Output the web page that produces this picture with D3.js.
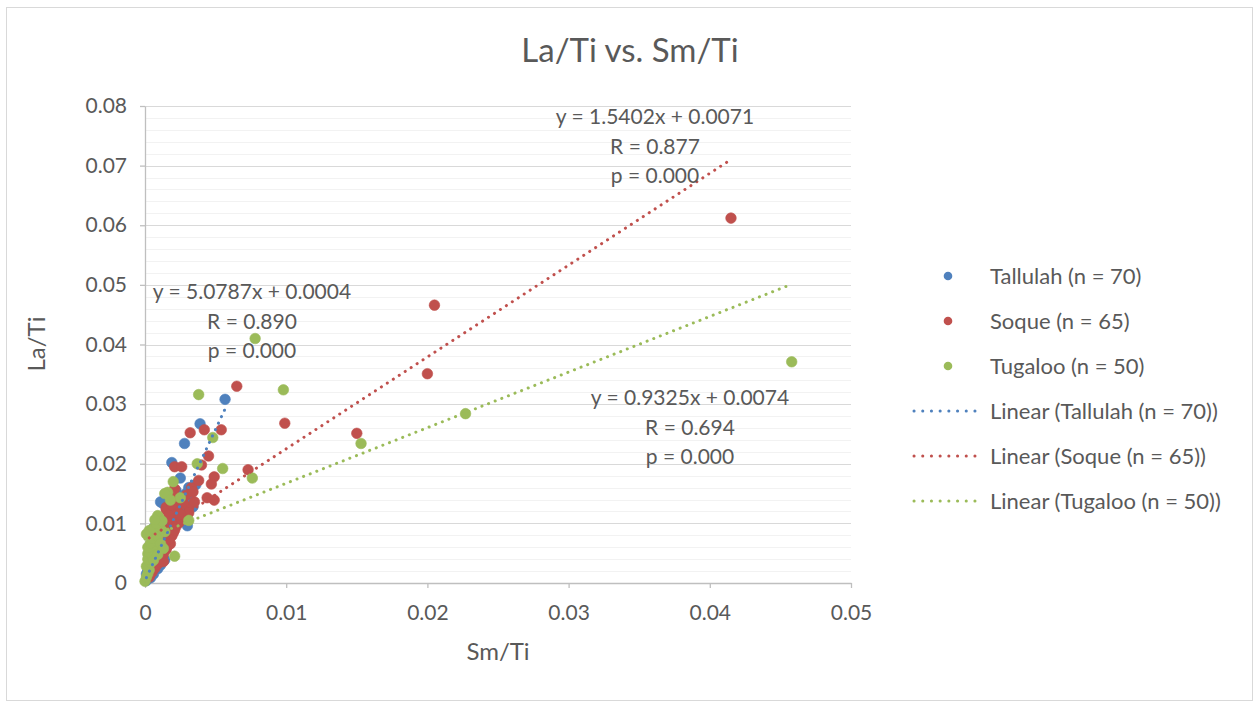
<!DOCTYPE html>
<html>
<head>
<meta charset="utf-8">
<script src="https://cdn.jsdelivr.net/npm/d3@7"></script>
<style>
  html, body { margin: 0; padding: 0; background: #fff; }
  text { font-family: Lato, "Open Sans", sans-serif; fill: #595959; }
</style>
</head>
<body>
<svg id="chart" width="1259" height="703"></svg>
<script>
// ---------- DATA ----------
const seriesNames = ["Tallulah (n = 70)", "Soque (n = 65)", "Tugaloo (n = 50)"];
const seriesColors = ["#4F81BD", "#C0504D", "#9BBB59"];

// Tallulah: [Sm/Ti, La/Ti]
const tallulah = [
  [0.00567,0.0308],[0.0039,0.0267],[0.0028,0.0234],[0.0019,0.0202],[0.0025,0.0176],
  [0.0030,0.0146],[0.0013,0.0133],[0.0034,0.0128],[0.0030,0.0096],[0.0020,0.0118],
  [0.0006,0.0092],[0.0011,0.0062],[0.0009,0.0034],[0.0001,0.0015],
  [0.0002,0.0008],[0.0003,0.0012],[0.0004,0.0018],[0.0005,0.0022],[0.0003,0.0025],
  [0.0006,0.0028],[0.0007,0.0031],[0.0005,0.0036],[0.0008,0.0040],[0.0010,0.0044],
  [0.0007,0.0047],[0.0009,0.0051],[0.0012,0.0055],[0.0011,0.0058],[0.0013,0.0064],
  [0.0008,0.0068],[0.0014,0.0071],[0.0012,0.0075],[0.0016,0.0079],[0.0010,0.0082],
  [0.0015,0.0086],[0.0017,0.0088],[0.0013,0.0095],[0.0018,0.0098],[0.0016,0.0102],
  [0.0022,0.0105],[0.0019,0.0108],[0.0024,0.0112],[0.0021,0.0114],[0.0026,0.0120],
  [0.0017,0.0124],[0.0023,0.0127],[0.0027,0.0131],[0.0011,0.0136],[0.0025,0.0139],
  [0.0032,0.0141],[0.0029,0.0150],[0.0022,0.0155],[0.0031,0.0160],[0.0036,0.0165],
  [0.0004,0.0009],[0.0001,0.0004],[0.0006,0.0015],[0.0002,0.0020],[0.0009,0.0024],
  [0.0011,0.0030],[0.0004,0.0033],[0.0014,0.0039],[0.0006,0.0043],[0.0009,0.0046],
  [0.0010,0.0053],[0.0012,0.0060],[0.0009,0.0066],[0.0014,0.0072],[0.0016,0.0093],
  [0.0021,0.0121]
];

const soque = [
  [0.0415,0.0612],[0.0205,0.0466],[0.0200,0.0351],[0.0150,0.0251],[0.0099,0.0268],
  [0.0065,0.0330],[0.0054,0.0257],[0.0073,0.0190],[0.0032,0.0252],[0.0042,0.0257],
  [0.0045,0.0213],[0.0021,0.0195],[0.0026,0.0195],[0.0040,0.0198],[0.0049,0.0178],
  [0.0047,0.0166],[0.0033,0.0160],[0.0021,0.0158],[0.0044,0.0143],[0.0049,0.0139],
  [0.0015,0.0123],[0.0023,0.0124],[0.0028,0.0113],[0.0021,0.0109],[0.0013,0.0092],
  [0.0019,0.0079],[0.0016,0.0062],[0.0020,0.0152],[0.0031,0.0127],[0.0015,0.0127],
  [0.0003,0.0010],[0.0005,0.0018],[0.0007,0.0025],[0.0009,0.0032],[0.0006,0.0038],
  [0.0011,0.0042],[0.0013,0.0048],[0.0008,0.0052],[0.0015,0.0056],[0.0012,0.0060],
  [0.0018,0.0066],[0.0014,0.0070],[0.0017,0.0074],[0.0020,0.0084],[0.0016,0.0088],
  [0.0022,0.0095],[0.0011,0.0098],[0.0024,0.0101],[0.0019,0.0104],[0.0026,0.0107],
  [0.0029,0.0110],[0.0017,0.0114],[0.0031,0.0118],[0.0025,0.0116],[0.0019,0.0131],
  [0.0027,0.0134],[0.0035,0.0136],[0.0024,0.0140],[0.0029,0.0147],[0.0034,0.0153],
  [0.0038,0.0172],[0.0010,0.0079],[0.0004,0.0030],[0.0013,0.0036],[0.0021,0.0089]
];

const tugaloo = [
  [0.0458,0.0371],[0.0227,0.0284],[0.0153,0.0234],[0.0098,0.0324],[0.0078,0.0410],
  [0.0038,0.0316],[0.0048,0.0244],[0.0037,0.0200],[0.0055,0.0192],[0.0076,0.0176],
  [0.0020,0.0170],[0.0025,0.0143],[0.0010,0.0109],[0.0004,0.0082],[0.0021,0.0045],
  [0.0000,0.0003],[0.0009,0.0113],[0.0001,0.0082],[0.0005,0.0059],[0.0002,0.0049],
  [0.0001,0.0010],[0.0002,0.0016],[0.0003,0.0022],[0.0001,0.0028],[0.0004,0.0034],
  [0.0002,0.0040],[0.0005,0.0045],[0.0003,0.0052],[0.0006,0.0056],[0.0002,0.0060],
  [0.0007,0.0063],[0.0004,0.0067],[0.0008,0.0071],[0.0005,0.0075],[0.0009,0.0078],
  [0.0003,0.0088],[0.0006,0.0092],[0.0010,0.0095],[0.0008,0.0100],[0.0012,0.0104],
  [0.0007,0.0106],[0.0014,0.0086],[0.0011,0.0066],[0.0013,0.0058],[0.0009,0.0048],
  [0.0006,0.0038],[0.0016,0.0152],[0.0031,0.0105],[0.0014,0.0150],[0.0018,0.0139]
];

// Linear trendlines: slope, intercept
const trendSlopes = [5.0787, 1.5402, 0.9325];
const trendIntercepts = [0.0004, 0.0071, 0.0074];
const trendLabels = [
  ["y = 5.0787x + 0.0004", "R = 0.890", "p = 0.000"],
  ["y = 1.5402x + 0.0071", "R = 0.877", "p = 0.000"],
  ["y = 0.9325x + 0.0074", "R = 0.694", "p = 0.000"]
];
const legendLabels = [
  "Tallulah (n = 70)", "Soque (n = 65)", "Tugaloo (n = 50)",
  "Linear (Tallulah (n = 70))", "Linear (Soque (n = 65))", "Linear (Tugaloo (n = 50))"
];

const xTicks = [0, 0.01, 0.02, 0.03, 0.04, 0.05];
const yTicks = [0, 0.01, 0.02, 0.03, 0.04, 0.05, 0.06, 0.07, 0.08];
const yMinorTicks = d3.range(0, 81, 2).map(d => d / 1000);

// ---------- LAYOUT ----------
const svg = d3.select("#chart");
const plot = { left: 145, right: 851, top: 106, bottom: 583 };
const x = d3.scaleLinear().domain([0, 0.05]).range([plot.left, plot.right]);
const y = d3.scaleLinear().domain([0, 0.08]).range([plot.bottom, plot.top]);
const allSeries = [tallulah, soque, tugaloo];

// chart border
svg.append("rect").attr("x", 6.5).attr("y", 7.5).attr("width", 1246).attr("height", 693)
  .attr("fill", "#fff").attr("stroke", "#d9d9d9").attr("stroke-width", 1);

// title
svg.append("text").attr("x", 630).attr("y", 62).attr("text-anchor", "middle")
  .style("font-size", "33px").text("La/Ti vs. Sm/Ti");

// minor gridlines
svg.append("g").selectAll("line").data(yMinorTicks).join("line")
  .attr("x1", plot.left).attr("x2", plot.right)
  .attr("y1", d => Math.round(y(d)) + 0.5).attr("y2", d => Math.round(y(d)) + 0.5)
  .attr("stroke", "#f2f2f2").attr("stroke-width", 1);
// major gridlines
svg.append("g").selectAll("line").data(yTicks.slice(1)).join("line")
  .attr("x1", plot.left).attr("x2", plot.right)
  .attr("y1", d => Math.round(y(d)) + 0.5).attr("y2", d => Math.round(y(d)) + 0.5)
  .attr("stroke", "#d9d9d9").attr("stroke-width", 1);

// axes
const fmt = d => d === 0 ? "0" : d3.format("~g")(d);
const xAxis = svg.append("g").attr("transform", `translate(0,${plot.bottom})`)
  .call(d3.axisBottom(x).tickValues(xTicks).tickFormat(fmt).tickSize(5).tickPadding(12).tickSizeOuter(0));
const yAxis = svg.append("g").attr("transform", `translate(${plot.left},0)`)
  .call(d3.axisLeft(y).tickValues(yTicks).tickFormat(fmt).tickSize(5).tickPadding(13).tickSizeOuter(0));
[xAxis, yAxis].forEach(a => {
  a.select(".domain").attr("stroke", "#bfbfbf").attr("stroke-width", 1.3);
  a.selectAll(".tick line").attr("stroke", "#bfbfbf").attr("stroke-width", 1.3);
  a.selectAll(".tick text").style("font-size", "21px").attr("fill", "#595959")
    .style("font-family", "Lato, 'Open Sans', sans-serif");
});
xAxis.selectAll(".tick text").attr("dy", "0.95em");

// axis titles
svg.append("text").attr("x", (plot.left + plot.right) / 2).attr("y", 660)
  .attr("text-anchor", "middle").style("font-size", "24px").text("Sm/Ti");
svg.append("text").attr("transform", "translate(45,344) rotate(-90)")
  .attr("text-anchor", "middle").style("font-size", "24px").text("La/Ti");

// markers
allSeries.forEach((data, i) => {
  svg.append("g").selectAll("circle").data(data).join("circle")
    .attr("cx", d => x(d[0])).attr("cy", d => y(d[1])).attr("r", 5.3)
    .attr("fill", seriesColors[i]).attr("stroke", seriesColors[i]).attr("stroke-width", 0.6);
});

// trendlines
allSeries.forEach((data, i) => {
  const ext = d3.extent(data, d => d[0]);
  const pts = ext.map(xv => [xv, trendSlopes[i] * xv + trendIntercepts[i]]);
  svg.append("line")
    .attr("x1", x(pts[0][0])).attr("y1", y(pts[0][1]))
    .attr("x2", x(pts[1][0])).attr("y2", y(pts[1][1]))
    .attr("stroke", seriesColors[i]).attr("stroke-width", 3)
    .attr("stroke-linecap", "round").attr("stroke-dasharray", "0.1 7");
});

// trend labels
const labelPos = [[252, 299], [655, 124], [690, 405]];
trendLabels.forEach((lines, i) => {
  const t = svg.append("text").attr("text-anchor", "middle").style("font-size", "21px");
  lines.forEach((s, k) => {
    t.append("tspan").attr("x", labelPos[i][0]).attr("y", labelPos[i][1] + k * 29.5).text(s);
  });
});

// legend
const legY = [276, 321, 366, 411, 456, 501];
const leg = svg.append("g");
legendLabels.forEach((lab, k) => {
  const ci = k % 3;
  if (k < 3) {
    leg.append("circle").attr("cx", 948).attr("cy", legY[k]).attr("r", 4.3)
      .attr("fill", seriesColors[ci]);
  } else {
    leg.append("line").attr("x1", 914).attr("x2", 978).attr("y1", legY[k]).attr("y2", legY[k])
      .attr("stroke", seriesColors[ci]).attr("stroke-width", 3)
      .attr("stroke-linecap", "round").attr("stroke-dasharray", "0.1 8.6");
  }
  leg.append("text").attr("x", 990).attr("y", legY[k]).attr("dy", "0.36em")
    .style("font-size", "22px").text(lab);
});
</script>
</body>
</html>
